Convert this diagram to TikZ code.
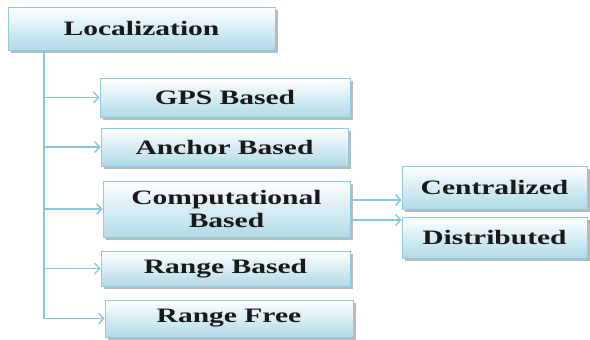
\documentclass[tikz,border=0pt]{standalone}
\usepackage{fontspec}
\setmainfont[FakeStretch=1.44]{Liberation Serif}
\usetikzlibrary{arrows.meta,shadows,calc}
\definecolor{boxblue}{RGB}{176,218,231}
\definecolor{boxborder}{RGB}{145,202,220}
\definecolor{connblue}{RGB}{135,199,220}
\tikzset{
  box/.style={draw=boxborder, line width=1pt, top color=white, bottom color=boxblue,
    drop shadow={shadow xshift=2.5pt, shadow yshift=-2.5pt, fill=black!45, opacity=0.6},
    font=\bfseries\fontsize{20.5}{23}\selectfont, align=center, inner sep=0pt, text=black!90},
  conn/.style={draw=connblue, line width=1.4pt, -{Straight Barb[length=5pt,width=11pt]}},
  trunkline/.style={draw=connblue, line width=1.4pt}
}
\begin{document}
\begin{tikzpicture}[x=1pt,y=-1pt]
\useasboundingbox (0,0) rectangle (590,340);
\node[box, minimum width=267pt, minimum height=43pt] (loc) at (141.5,28.5) {Localization};
\node[box, minimum width=250pt, minimum height=39pt] (gps) at (225,97.5) {GPS Based};
\node[box, minimum width=247pt, minimum height=38pt] (anc) at (224.5,147) {Anchor Based};
\node[box, minimum width=247pt, minimum height=56pt] (comp) at (226.5,209) {Computational\\Based};
\node[box, minimum width=249pt, minimum height=35pt] (rb) at (225.5,268.5) {Range Based};
\node[box, minimum width=248pt, minimum height=37pt] (rf) at (229,318.5) {Range Free};
\node[box, minimum width=185pt, minimum height=43pt] (cen) at (494.5,187.5) {Centralized};
\node[box, minimum width=185pt, minimum height=41pt] (dis) at (494.5,237.5) {Distributed};
\coordinate (trunk) at (44,0);
\draw[trunkline] (loc.south -| trunk) -- (trunk |- rf.west);
\draw[conn] (trunk |- gps.west) -- (gps.west);
\draw[conn] (trunk |- anc.west) -- (anc.west);
\draw[conn] (trunk |- comp.west) -- (comp.west);
\draw[conn] (trunk |- rb.west) -- (rb.west);
\draw[conn] (trunk |- rf.west) -- (rf.west);
\coordinate (c1) at ($(comp.east)+(0,-9)$);
\coordinate (c2) at ($(comp.east)+(0,11)$);
\draw[conn] (c1) -- (cen.west |- c1);
\draw[conn] (c2) -- (dis.west |- c2);
\end{tikzpicture}
\end{document}
